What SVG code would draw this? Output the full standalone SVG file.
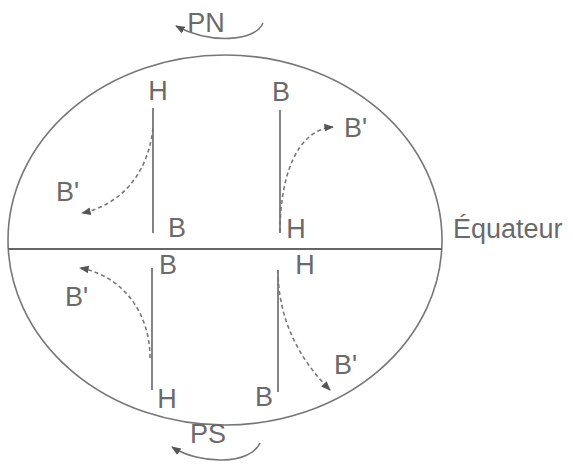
<svg xmlns="http://www.w3.org/2000/svg" width="573" height="464" viewBox="0 0 573 464">
<defs>
<style>
text{font-family:"Liberation Sans",Arial,sans-serif;font-size:27px;fill:#6a6a6a}
.axis{stroke:#666;stroke-width:1.6;fill:none}
.dash{stroke:#777;stroke-width:1.6;fill:none;stroke-dasharray:4 3;marker-end:url(#ah)}
.rot{stroke:#777;stroke-width:1.6;fill:none;marker-end:url(#ah)}
</style>
<marker id="ah" viewBox="0 0 10 10" refX="9" refY="5" markerWidth="6" markerHeight="6" markerUnits="strokeWidth" orient="auto">
<path d="M0,1 L10,5 L0,9 z" fill="#555"/>
</marker>
</defs>
<rect width="573" height="464" fill="#fff"/>
<g id="globe">
<ellipse cx="225" cy="240" rx="217" ry="185" fill="none" stroke="#777" stroke-width="1.6"/>
<line x1="8" y1="249" x2="442" y2="249" stroke="#666" stroke-width="2"/>
<text x="453" y="238">Équateur</text>
</g>
<g id="PN">
<text x="206" y="32" text-anchor="middle">PN</text>
</g>
<g id="PS">
<text x="208" y="443" text-anchor="middle">PS</text>
</g>
<g id="tl">
<line class="axis" x1="153" y1="108" x2="153" y2="233"/>
<text x="158" y="100" text-anchor="middle">H</text>
<text x="177" y="237" text-anchor="middle">B</text>
<text x="56" y="201">B'</text>
</g>
<g id="tr">
<line class="axis" x1="280" y1="110" x2="280" y2="233"/>
<text x="281" y="101" text-anchor="middle">B</text>
<text x="296" y="238" text-anchor="middle">H</text>
<text x="344" y="137">B'</text>
</g>
<g id="bl">
<line class="axis" x1="152" y1="268" x2="152" y2="390"/>
<text x="168" y="274" text-anchor="middle">B</text>
<text x="167" y="408" text-anchor="middle">H</text>
<text x="65" y="306">B'</text>
</g>
<g id="br">
<line class="axis" x1="278" y1="270" x2="278" y2="392"/>
<text x="305" y="274" text-anchor="middle">H</text>
<text x="264" y="406" text-anchor="middle">B</text>
<text x="334" y="374">B'</text>
</g>
<g id="connectors">
<path class="dash" d="M153,128 C148,175 120,205 82,213"/>
<path class="dash" d="M280,232 C280,180 295,130 333,127"/>
<path class="dash" d="M150,358 C150,310 120,275 80,268"/>
<path class="dash" d="M278,270 C278,320 300,360 330,390"/>
<path class="rot" d="M263,23 C255,42 210,44 176,26"/>
<path class="rot" d="M260,443 C250,465 200,465 172,447"/>
</g>
</svg>
